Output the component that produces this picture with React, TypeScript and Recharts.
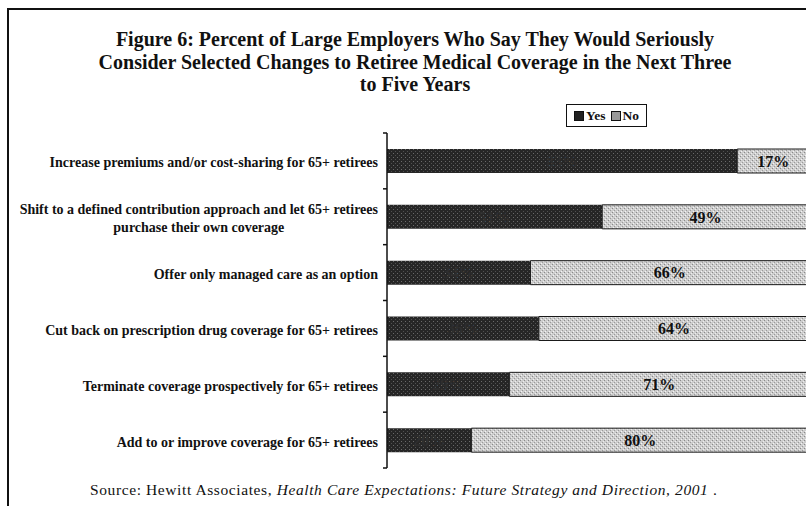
import React from "react";
import { BarChart, Bar, XAxis, YAxis, LabelList } from "recharts";

const titleLines = [
  "Figure 6: Percent of Large Employers Who Say They Would Seriously",
  "Consider Selected Changes to Retiree Medical Coverage in the Next Three",
  "to Five Years",
];

const categories = [
  "Increase premiums and/or cost-sharing for 65+ retirees",
  "Shift to a defined contribution approach and let 65+ retirees\npurchase their own coverage",
  "Offer only managed care as an option",
  "Cut back on prescription drug coverage for 65+ retirees",
  "Terminate coverage prospectively for 65+ retirees",
  "Add to or improve coverage for 65+ retirees",
];

const yesValues = [83, 51, 34, 36, 29, 20];
const noValues = [17, 49, 66, 64, 71, 80];

const seriesNames = ["Yes", "No"];

const sourcePrefix = "Source: Hewitt Associates, ";
const sourceItalic = "Health Care Expectations: Future Strategy and Direction, 2001";
const sourceSuffix = " .";

const data = categories.map((c, i) => ({ name: c, yes: yesValues[i], no: noValues[i] }));

const SERIF = '"Liberation Serif", "Times New Roman", serif';
const CW = 812;
const CH = 506;
const M = { top: 133, right: 3, bottom: 38, left: 0 };
const AXIS_W = 387;
const TICK_SIZE = 4;
const TICK_MARGIN = 5;
const BAND = (CH - M.top - M.bottom) / categories.length;
const LABEL_SIZE = 14;
const LABEL_FONT = `bold ${LABEL_SIZE}px ${SERIF}`;

function measure(text: string): number {
  try {
    const c = document.createElement("canvas");
    const ctx = c.getContext("2d");
    if (ctx) {
      ctx.font = LABEL_FONT;
      return ctx.measureText(text).width;
    }
  } catch (e) {}
  return text.length * 6;
}

function CatTick(props: any) {
  const { x, y, payload, index } = props;
  const axisX = x + TICK_SIZE + TICK_MARGIN;
  const lines: string[] = String(payload.value).split("\n");
  const top = y - BAND / 2;
  const last = index === categories.length - 1;
  const textStyle = { fontFamily: SERIF, fontWeight: 700, fontSize: LABEL_SIZE } as any;
  let texts: React.ReactNode;
  if (lines.length === 1) {
    texts = (
      <text x={x} y={y + 2} textAnchor="end" dominantBaseline="central" fill="#111" style={textStyle}>
        {lines[0]}
      </text>
    );
  } else {
    const w = measure(lines[0]);
    const cx = x - w / 2;
    texts = (
      <g>
        <text x={x} y={y - 7} textAnchor="end" dominantBaseline="central" fill="#111" style={textStyle}>
          {lines[0]}
        </text>
        <text x={cx} y={y + 11} textAnchor="middle" dominantBaseline="central" fill="#111" style={textStyle}>
          {lines[1]}
        </text>
      </g>
    );
  }
  return (
    <g>
      <line x1={axisX - TICK_SIZE} x2={axisX} y1={top} y2={top} stroke="#111" strokeWidth={1.5} />
      {last && (
        <line
          x1={axisX - TICK_SIZE}
          x2={axisX}
          y1={top + BAND}
          y2={top + BAND}
          stroke="#111"
          strokeWidth={1.5}
        />
      )}
      {texts}
    </g>
  );
}

const pct = (v: any) => `${v}%`;

export default function App() {
  return (
    <div
      style={{
        position: "absolute",
        left: 0,
        top: 0,
        width: 806,
        height: 506,
        overflow: "hidden",
        background: "#fff",
        fontFamily: SERIF,
      }}
    >
      <div
        style={{
          position: "absolute",
          left: 7,
          top: 8,
          width: 820,
          height: 520,
          borderTop: "2px solid #111",
          borderLeft: "2px solid #111",
        }}
      />
      <div
        style={{
          position: "absolute",
          left: 15,
          width: 800,
          top: 28,
          textAlign: "center",
          fontWeight: 700,
          fontSize: 20,
          lineHeight: "22.5px",
          color: "#111",
        }}
      >
        {titleLines.map((t, i) => (
          <div key={i}>{t}</div>
        ))}
      </div>
      <div
        style={{
          position: "absolute",
          left: 566,
          top: 104,
          width: 79,
          height: 21,
          border: "1.5px solid #111",
          display: "flex",
          alignItems: "center",
          justifyContent: "center",
          fontWeight: 700,
          fontSize: 13.5,
          color: "#111",
          gap: 5,
        }}
      >
        {seriesNames.map((s, i) => (
          <span key={s} style={{ display: "flex", alignItems: "center" }}>
            <span
              style={{
                display: "inline-block",
                width: 8,
                height: 8,
                marginRight: 2,
                background: i === 0 ? "#222" : "#999",
                border: "1px solid #111",
              }}
            />
            {s}
          </span>
        ))}
      </div>
      <div style={{ position: "absolute", left: 0, top: 0 }}>
        <BarChart width={CW} height={CH} data={data} layout="vertical" margin={M}>
          <defs>
            <pattern id="yesPat" width="4" height="4" patternUnits="userSpaceOnUse">
              <rect width="4" height="4" fill="#262626" />
              <rect x="1" y="1" width="1" height="1" fill="#6a6a6a" />
              <rect x="3" y="3" width="1" height="1" fill="#505050" />
            </pattern>
            <pattern id="noPat" width="4" height="4" patternUnits="userSpaceOnUse">
              <rect width="4" height="4" fill="#cdcdcd" />
              <rect x="0" y="0" width="1" height="1" fill="#8a8a8a" />
              <rect x="2" y="2" width="1" height="1" fill="#9a9a9a" />
              <rect x="1" y="3" width="1" height="1" fill="#f4f4f4" />
              <rect x="3" y="1" width="1" height="1" fill="#ededed" />
            </pattern>
          </defs>
          <XAxis type="number" domain={[0, 100]} hide />
          <YAxis
            type="category"
            dataKey="name"
            width={AXIS_W}
            axisLine={{ stroke: "#111", strokeWidth: 1.5 }}
            tickLine={false}
            tickSize={TICK_SIZE}
            tickMargin={TICK_MARGIN}
            tick={<CatTick />}
            interval={0}
          />
          <Bar dataKey="yes" name="Yes" stackId="a" fill="url(#yesPat)" barSize={24} isAnimationActive={false}>
            <LabelList
              dataKey="yes"
              position="center"
              formatter={pct}
              style={{ fontFamily: SERIF, fontWeight: 700, fontSize: 16, fill: "#2e2e2e" }}
            />
          </Bar>
          <Bar
            dataKey="no"
            name="No"
            stackId="a"
            fill="url(#noPat)"
            stroke="#1a1a1a"
            strokeWidth={1}
            barSize={24}
            isAnimationActive={false}
          >
            <LabelList
              dataKey="no"
              position="center"
              formatter={pct}
              style={{ fontFamily: SERIF, fontWeight: 700, fontSize: 16, fill: "#111" }}
            />
          </Bar>
        </BarChart>
      </div>
      <div
        style={{
          position: "absolute",
          left: 90,
          top: 481,
          fontSize: 15.5,
          letterSpacing: 0.6,
          color: "#111",
          whiteSpace: "nowrap",
        }}
      >
        {sourcePrefix}
        <i>{sourceItalic}</i>
        {sourceSuffix}
      </div>
    </div>
  );
}
